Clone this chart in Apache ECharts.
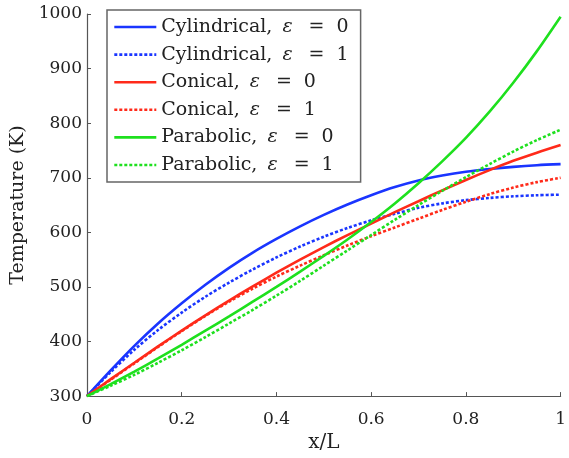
<!DOCTYPE html>
<html>
<head>
<meta charset="utf-8">
<script src="https://cdn.jsdelivr.net/npm/echarts@6/dist/echarts.min.js"></script>
<style>
  html, body { margin: 0; padding: 0; background: #fff; }
  #chart { width: 569px; height: 458px; }
</style>
</head>
<body>
<div id="chart"></div>
<script>
// Normalised position along the fin, x/L
const xPos = [0, 0.05, 0.1, 0.15, 0.2, 0.25, 0.3, 0.35, 0.4, 0.45, 0.5,
              0.55, 0.6, 0.65, 0.7, 0.75, 0.8, 0.85, 0.9, 0.95, 1];

// Temperature profiles (K)
const cylindrical0 = [300, 347, 392, 433, 470, 504, 535, 563, 588, 611, 632,
                      651, 668, 683, 695, 704, 711, 716, 720, 723, 725];
const cylindrical1 = [300, 344, 385, 421, 453, 482, 508, 532, 554, 574, 592,
                      608, 622, 634, 645, 653, 659, 663, 666, 668, 669];
const conical0 = [300, 331, 361, 391, 420, 448, 475, 501, 526, 550, 573,
                  595, 616, 637, 657, 677, 696, 714, 731, 746, 760];
const conical1 = [300, 330, 360, 390, 419, 447, 473, 497, 519, 539, 558,
                  576, 593, 609, 625, 641, 656, 670, 682, 692, 700];
const parabolic0 = [300, 322, 345, 369, 394, 420, 446, 473, 500, 528, 557,
                    587, 619, 653, 690, 730, 773, 821, 874, 932, 995];
const parabolic1 = [300, 319, 339, 361, 384, 408, 433, 458, 484, 511, 539,
                    567, 595, 623, 650, 676, 701, 725, 748, 769, 788];

// Axis tick labels
const xTickLabels = ['0', '0.2', '0.4', '0.6', '0.8', '1'];

const seriesNames = [
  'Cylindrical, ε = 0', 'Cylindrical, ε = 1',
  'Conical, ε = 0', 'Conical, ε = 1',
  'Parabolic, ε = 0', 'Parabolic, ε = 1'
];
const seriesValues = [cylindrical0, cylindrical1, conical0, conical1, parabolic0, parabolic1];
const colors = ['#1a35ff', '#1a35ff', '#ff2a1a', '#ff2a1a', '#1ee01e', '#1ee01e'];

const serif = 'DejaVu Serif';

const series = seriesNames.map((name, i) => ({
  name: name,
  type: 'line',
  symbol: 'none',
  showSymbol: false,
  smooth: 0.3,
  color: colors[i],
  lineStyle: {
    color: colors[i],
    width: 2.6,
    type: i % 2 === 1 ? [3, 2] : 'solid'
  },
  data: xPos.map((x, k) => [x, seriesValues[i][k]])
}));

const chart = echarts.init(document.getElementById('chart'));
chart.setOption({
  animation: false,
  backgroundColor: '#fff',
  grid: { left: 87, right: 2, top: 14, bottom: 59 },
  legend: {
    orient: 'vertical',
    left: 107,
    top: 10,
    data: seriesNames,
    itemWidth: 42,
    itemHeight: 14,
    itemGap: 7.6,
    padding: [7, 12, 7, 6],
    borderColor: '#666',
    borderWidth: 1.5,
    backgroundColor: '#fff',
    itemStyle: { opacity: 0 },
    lineStyle: { width: 2.6 },
    formatter: function (name) {
      const head = name.split('ε')[0];
      const tail = name.split('=')[1].trim();
      return '{n|' + head + '}{e|ε}{q|=}{n|' + tail + '}';
    },
    textStyle: {
      fontFamily: serif,
      fontSize: 19,
      color: '#222',
      lineHeight: 20,
      rich: {
        n: { fontFamily: serif, fontSize: 19, color: '#222' },
        e: { fontFamily: serif, fontSize: 19, fontStyle: 'italic', color: '#222', padding: [0, 4, 0, 4] },
        q: { fontFamily: serif, fontSize: 19, color: '#222', padding: [0, 12, 0, 12] }
      }
    }
  },
  xAxis: {
    type: 'value',
    min: 0,
    max: 1,
    interval: 0.2,
    name: 'x/L',
    nameLocation: 'middle',
    nameGap: 35,
    nameTextStyle: { fontFamily: serif, fontSize: 20, color: '#222' },
    axisLine: { show: true, lineStyle: { color: '#555', width: 1.2 } },
    axisTick: { show: true, inside: true, length: 4, lineStyle: { color: '#555' } },
    axisLabel: {
      fontFamily: serif, fontSize: 17, color: '#222', margin: 15,
      formatter: v => xTickLabels[Math.round(v * 5)]
    },
    splitLine: { show: false }
  },
  yAxis: {
    type: 'value',
    min: 300,
    max: 1000,
    interval: 100,
    name: 'Temperature (K)',
    nameLocation: 'middle',
    nameRotate: 90,
    nameGap: 58,
    nameTextStyle: { fontFamily: serif, fontSize: 19, color: '#222' },
    axisLine: { show: true, lineStyle: { color: '#555', width: 1.2 } },
    axisTick: { show: true, inside: true, length: 4, lineStyle: { color: '#555' } },
    axisLabel: {
      fontFamily: serif, fontSize: 17, color: '#222', margin: 5,
      formatter: v => String(v)
    },
    splitLine: { show: false }
  },
  series: series
});
</script>
</body>
</html>
